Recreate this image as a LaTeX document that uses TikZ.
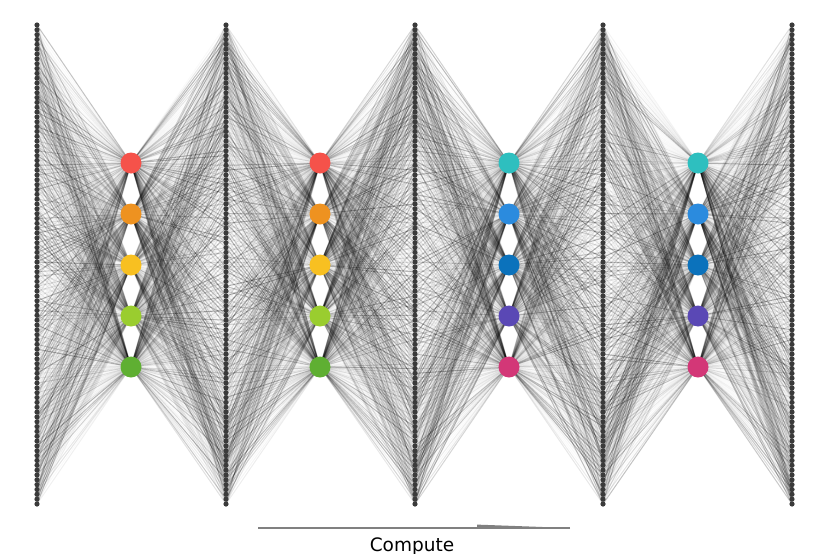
\documentclass[tikz,border=0pt]{standalone}
\usepackage{fontspec}
\setmainfont{DejaVu Sans}
\usetikzlibrary{backgrounds}
\definecolor{dotc}{HTML}{3A3A3A}
\definecolor{wa0}{HTML}{F5524A}
\definecolor{wa1}{HTML}{EE9220}
\definecolor{wa2}{HTML}{F8C021}
\definecolor{wa3}{HTML}{9ACD2F}
\definecolor{wa4}{HTML}{5FAF32}
\definecolor{co0}{HTML}{2EBFBF}
\definecolor{co1}{HTML}{2B8BDE}
\definecolor{co2}{HTML}{0B72BC}
\definecolor{co3}{HTML}{5A48B5}
\definecolor{co4}{HTML}{D33777}
\definecolor{axisc}{HTML}{808080}
\begin{document}
\begin{tikzpicture}[x=1pt,y=-1pt,
  dot/.style={circle,fill=dotc,inner sep=0pt,minimum size=5.2pt},
  unit/.style={circle,inner sep=0pt,minimum size=21pt},
  edge/.style={line width=1pt,draw=black},
  axisline/.style={draw=axisc,line width=2.2pt},
  lbl/.style={font=\fontsize{18.5}{22}\selectfont,text=black,inner sep=0pt}]
\useasboundingbox (0,0) rectangle (830,554);
\pgfmathsetseed{7}
% input / hidden dot columns
\foreach \c/\x in {0/37,1/226,2/415,3/603,4/792}{
  \foreach \i in {0,...,99}{
    \node[dot] (d\c-\i) at (\x,{25+\i*4.8384}) {};
  }
}
% coloured units
\foreach \c/\x in {1/131,2/320}{
  \foreach \j/\y in {0/163,1/214,2/265,3/316,4/367}{
    \node[unit,fill=wa\j] (n\c-\j) at (\x,\y) {};
  }
}
\foreach \c/\x in {3/509,4/698}{
  \foreach \j/\y in {0/163,1/214,2/265,3/316,4/367}{
    \node[unit,fill=co\j] (n\c-\j) at (\x,\y) {};
  }
}
% connections
\begin{pgfonlayer}{background}
\foreach \c [evaluate=\c as \cm using int(\c-1)] in {1,...,4}{
  \foreach \j in {0,...,4}{
    \foreach \i in {0,...,99}{
      \pgfmathsetmacro\oa{0.02+0.28*rnd^2}
      \pgfmathsetmacro\ob{0.02+0.28*rnd^2}
      \draw[edge,draw opacity=\oa] (d\cm-\i.center) -- (n\c-\j.center);
      \draw[edge,draw opacity=\ob] (n\c-\j.center) -- (d\c-\i.center);
    }
  }
}
\end{pgfonlayer}
% compute axis
\coordinate (a0) at (258,528);
\coordinate (a1) at (570,528);
\coordinate (w0) at (477,524.6);
\coordinate (w1) at (477,528);
\draw[axisline] (a0) -- (a1);
\fill[axisc] (w0) -- (a1) -- (w1) -- cycle;
\node[lbl,anchor=base] (lab) at (412,551) {Compute};
\end{tikzpicture}
\end{document}
